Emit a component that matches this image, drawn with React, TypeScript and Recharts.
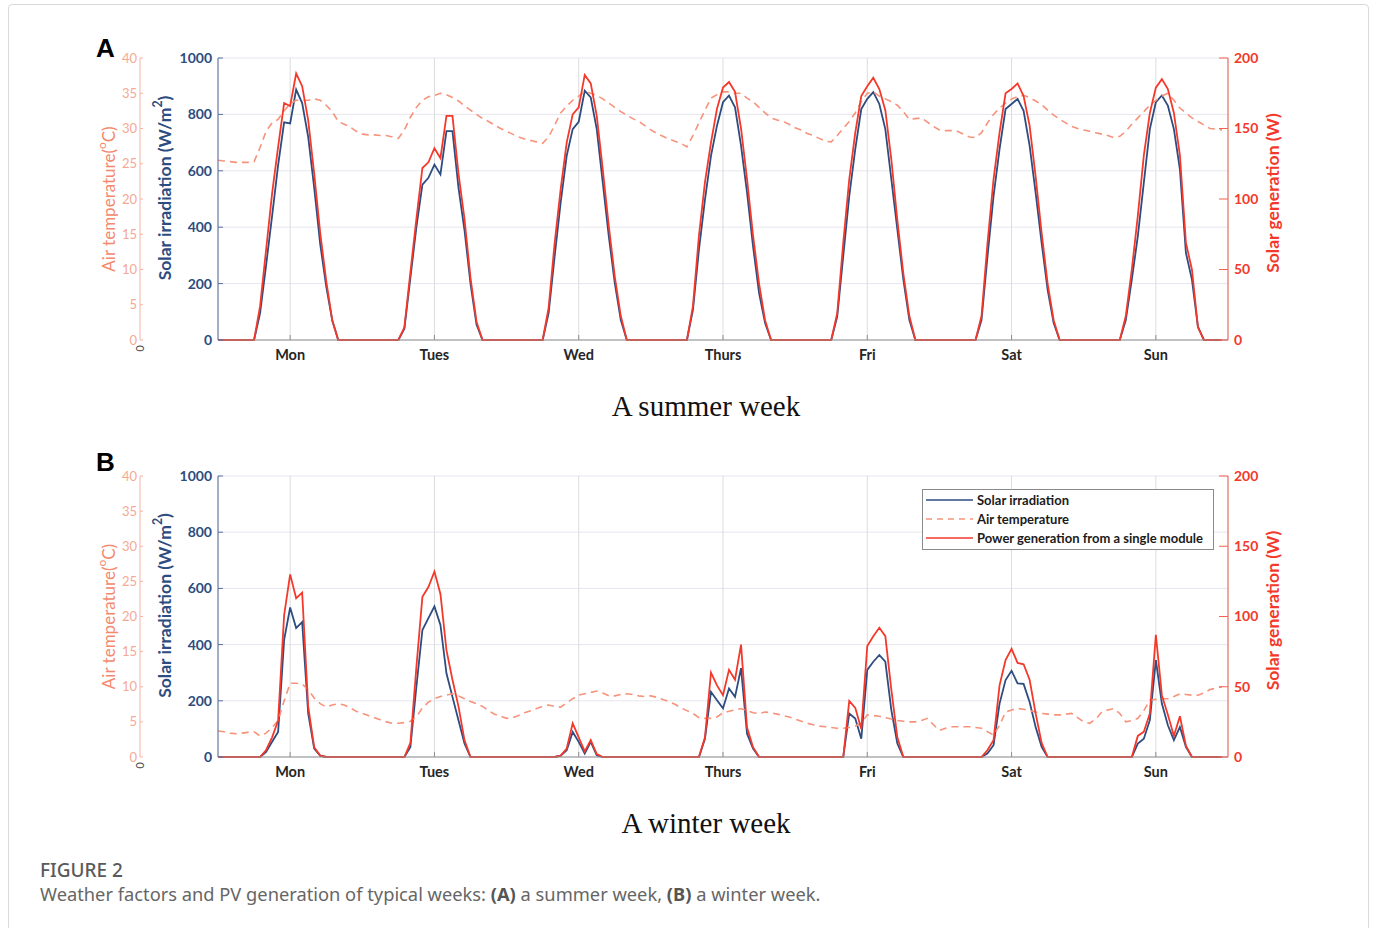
import React from 'react';
import { ComposedChart, Line, XAxis, YAxis, CartesianGrid, Legend } from 'recharts';

const days = ['Mon', 'Tues', 'Wed', 'Thurs', 'Fri', 'Sat', 'Sun'];
const dayTicks = [12, 36, 60, 84, 108, 132, 156];
const irradiationTicks = [0, 200, 400, 600, 800, 1000];
const temperatureTicks = [0, 5, 10, 15, 20, 25, 30, 35, 40];
const powerTicks = [0, 50, 100, 150, 200];
const legendOrder = ['Solar irradiation', 'Air temperature', 'Power generation from a single module'];

// hourly readings, one row of 24 values per day (Mon..Sun)
const summerIrradiation = [
  [0, 0, 0, 0, 0, 0, 0, 95, 265, 440, 620, 772, 768, 888, 840, 720, 540, 340, 190, 70, 0, 0, 0, 0],
  [0, 0, 0, 0, 0, 0, 0, 40, 220, 400, 551, 575, 622, 587, 741, 741, 540, 390, 200, 55, 0, 0, 0, 0],
  [0, 0, 0, 0, 0, 0, 0, 96, 297, 488, 653, 748, 774, 884, 860, 748, 558, 368, 202, 71, 0, 0, 0, 0],
  [0, 0, 0, 0, 0, 0, 0, 107, 320, 498, 653, 760, 843, 867, 825, 689, 523, 332, 166, 60, 0, 0, 0, 0],
  [0, 0, 0, 0, 0, 0, 0, 83, 297, 510, 677, 819, 855, 879, 837, 748, 570, 392, 214, 71, 0, 0, 0, 0],
  [0, 0, 0, 0, 0, 0, 0, 71, 297, 510, 677, 819, 837, 855, 813, 689, 523, 344, 178, 60, 0, 0, 0, 0],
  [0, 0, 0, 0, 0, 0, 0, 71, 214, 368, 558, 748, 843, 867, 831, 748, 605, 309, 214, 47, 0, 0, 0, 0],
];

const summerPower = [
  [0, 0, 0, 0, 0, 0, 0, 24, 64, 104, 137, 168, 166, 189, 180, 156, 118, 76, 42, 14, 0, 0, 0, 0],
  [0, 0, 0, 0, 0, 0, 0, 9, 48, 86, 122, 126, 136, 129, 159, 159, 118, 86, 44, 13, 0, 0, 0, 0],
  [0, 0, 0, 0, 0, 0, 0, 23, 69, 107, 140, 160, 165, 188, 182, 159, 121, 81, 45, 17, 0, 0, 0, 0],
  [0, 0, 0, 0, 0, 0, 0, 24, 74, 112, 140, 164, 179, 183, 176, 150, 114, 74, 40, 14, 0, 0, 0, 0],
  [0, 0, 0, 0, 0, 0, 0, 19, 69, 114, 147, 173, 180, 186, 178, 163, 128, 85, 47, 17, 0, 0, 0, 0],
  [0, 0, 0, 0, 0, 0, 0, 17, 69, 114, 147, 175, 178, 182, 173, 152, 116, 76, 40, 14, 0, 0, 0, 0],
  [0, 0, 0, 0, 0, 0, 0, 17, 50, 88, 131, 161, 179, 185, 178, 161, 131, 69, 50, 9, 0, 0, 0, 0],
];

const summerTemperature = [
  [25.5, 25.4, 25.3, 25.2, 25.2, 25.2, 25.3, 27.3, 29.6, 30.8, 31.3, 32.5, 33.5, 34.0, 34.0, 34.0, 34.2, 34.0, 33.3, 32.4, 31.0, 30.6, 30.2, 29.6],
  [29.2, 29.1, 29.1, 29.0, 29.0, 28.8, 28.6, 29.8, 31.6, 33.0, 34.0, 34.5, 34.7, 35.0, 34.8, 34.4, 33.9, 33.2, 32.6, 32.0, 31.4, 31.0, 30.5, 30.0],
  [29.6, 29.2, 28.8, 28.5, 28.3, 28.1, 27.9, 28.8, 30.5, 32.2, 33.2, 34.0, 34.6, 35.2, 35.0, 34.7, 34.2, 33.6, 33.0, 32.4, 31.9, 31.4, 31.0, 30.4],
  [29.8, 29.3, 28.9, 28.5, 28.2, 27.9, 27.4, 29.0, 30.8, 32.6, 34.3, 34.8, 35.2, 35.2, 35.0, 35.0, 34.3, 33.8, 33.0, 32.2, 31.5, 31.2, 31.0, 30.6],
  [30.1, 29.8, 29.3, 29.0, 28.6, 28.2, 28.1, 29.0, 30.0, 31.0, 32.2, 33.8, 35.0, 35.2, 34.6, 34.2, 33.8, 33.3, 32.4, 31.3, 31.4, 31.5, 30.9, 30.3],
  [29.8, 29.7, 29.7, 29.6, 29.2, 28.8, 28.7, 29.4, 30.8, 32.0, 32.9, 33.6, 34.2, 34.5, 34.7, 34.4, 33.9, 33.4, 32.6, 31.9, 31.3, 30.8, 30.3, 30.0],
  [29.8, 29.6, 29.4, 29.2, 29.0, 28.7, 28.9, 29.6, 30.6, 31.5, 32.4, 33.3, 34.0, 34.6, 35.0, 34.0, 32.9, 32.2, 31.5, 31.0, 30.5, 30.0, 29.9, 29.8],
];

const winterIrradiation = [
  [0, 0, 0, 0, 0, 0, 0, 0, 18, 54, 89, 417, 532, 459, 480, 155, 30, 5, 0, 0, 0, 0, 0, 0],
  [0, 0, 0, 0, 0, 0, 0, 0, 36, 250, 452, 494, 536, 470, 298, 214, 131, 48, 0, 0, 0, 0, 0, 0],
  [0, 0, 0, 0, 0, 0, 0, 0, 0, 5, 24, 89, 54, 12, 54, 6, 0, 0, 0, 0, 0, 0, 0, 0],
  [0, 0, 0, 0, 0, 0, 0, 0, 0, 65, 232, 202, 173, 244, 214, 316, 83, 30, 0, 0, 0, 0, 0, 0],
  [0, 0, 0, 0, 0, 0, 0, 0, 0, 155, 137, 65, 310, 339, 363, 339, 167, 48, 0, 0, 0, 0, 0, 0],
  [0, 0, 0, 0, 0, 0, 0, 0, 13, 42, 190, 274, 307, 262, 260, 196, 107, 36, 0, 0, 0, 0, 0, 0],
  [0, 0, 0, 0, 0, 0, 0, 0, 0, 48, 65, 131, 345, 190, 113, 60, 107, 36, 0, 0, 0, 0, 0, 0],
];

const winterPower = [
  [0, 0, 0, 0, 0, 0, 0, 0, 5, 14, 26, 101, 130, 113, 117, 36, 7, 1, 0, 0, 0, 0, 0, 0],
  [0, 0, 0, 0, 0, 0, 0, 0, 10, 64, 114, 121, 132, 116, 76, 55, 36, 12, 0, 0, 0, 0, 0, 0],
  [0, 0, 0, 0, 0, 0, 0, 0, 0, 1, 6, 24, 14, 4, 12, 2, 0, 0, 0, 0, 0, 0, 0, 0],
  [0, 0, 0, 0, 0, 0, 0, 0, 0, 14, 60, 51, 44, 62, 55, 80, 21, 7, 0, 0, 0, 0, 0, 0],
  [0, 0, 0, 0, 0, 0, 0, 0, 0, 40, 35, 20, 79, 86, 92, 86, 48, 14, 0, 0, 0, 0, 0, 0],
  [0, 0, 0, 0, 0, 0, 0, 0, 5, 12, 51, 69, 77, 67, 66, 55, 31, 10, 0, 0, 0, 0, 0, 0],
  [0, 0, 0, 0, 0, 0, 0, 0, 0, 15, 18, 31, 87, 44, 30, 15, 29, 8, 0, 0, 0, 0, 0, 0],
];

const winterTemperature = [
  [3.7, 3.6, 3.4, 3.3, 3.4, 3.5, 3.6, 3.0, 3.4, 4.2, 5.2, 8.0, 10.5, 10.5, 10.4, 9.6, 8.4, 7.6, 7.1, 7.4, 7.6, 7.4, 7.0, 6.5],
  [6.2, 5.9, 5.6, 5.3, 5.0, 4.8, 4.8, 4.9, 5.1, 5.7, 7.0, 7.8, 8.3, 8.6, 8.8, 9.0, 8.7, 8.3, 7.9, 7.6, 7.2, 6.6, 6.1, 5.8],
  [5.5, 5.6, 5.9, 6.3, 6.6, 6.9, 7.2, 7.4, 7.2, 7.1, 7.7, 8.3, 8.8, 9.0, 9.2, 9.4, 9.1, 8.7, 8.7, 8.9, 9.0, 8.9, 8.7, 8.6],
  [8.7, 8.5, 8.2, 7.9, 7.5, 7.0, 6.6, 6.2, 5.6, 5.5, 5.5, 5.7, 6.3, 6.5, 6.7, 6.9, 6.6, 6.3, 6.2, 6.4, 6.3, 6.1, 5.9, 5.7],
  [5.4, 5.1, 4.8, 4.6, 4.4, 4.3, 4.2, 4.1, 4.1, 4.2, 4.4, 4.8, 6.0, 5.9, 5.8, 5.6, 5.4, 5.2, 5.1, 5.0, 5.0, 5.2, 5.5, 4.6],
  [3.8, 4.1, 4.3, 4.3, 4.3, 4.3, 4.2, 4.1, 3.6, 3.1, 4.5, 6.4, 6.7, 6.9, 6.8, 6.6, 6.4, 6.2, 6.1, 6.0, 6.0, 6.1, 6.2, 5.6],
  [5.0, 4.8, 5.4, 6.4, 6.7, 6.9, 6.2, 5.0, 5.2, 5.5, 6.6, 8.1, 8.2, 8.3, 8.3, 8.6, 9.0, 8.9, 8.8, 8.8, 9.1, 9.6, 9.8, 10.0],
];

type HourRow = { hour: number; irradiation: number; temperature: number; power: number };

const buildRows = (irr: number[][], temp: number[][], power: number[][]): HourRow[] =>
  irr.flatMap((day, d) =>
    day.map((value, h) => ({ hour: d * 24 + h, irradiation: value, temperature: temp[d][h], power: power[d][h] }))
  );

const summerRows = buildRows(summerIrradiation, summerTemperature, summerPower);
const winterRows = buildRows(winterIrradiation, winterTemperature, winterPower);

const FONT = 'Lato, "Open Sans", sans-serif';
const BLUE = '#2d4c80';
const RED = '#f4392b';
const SALMON = '#f7937b';
const TEMP_AXIS = '#f6b3a2';

type ViewBox = { x: number; y: number; width: number; height: number };

// rotated axis title with an optional superscript part
const axisTitle = (
  offsetX: number,
  offsetY: number,
  fill: string,
  weight: number,
  size: number,
  text: string,
  sup = '',
  tail = ''
) =>
  (props: { viewBox?: ViewBox }) => {
    const vb = props.viewBox;
    if (!vb) return null;
    const cx = vb.x + offsetX;
    const cy = vb.y + vb.height / 2 + offsetY;
    return (
      <text
        x={cx}
        y={cy}
        transform={`rotate(-90 ${cx} ${cy})`}
        textAnchor="middle"
        dominantBaseline="central"
        fill={fill}
        fontSize={size}
        fontWeight={weight}
        fontFamily={FONT}
      >
        {text}
        {sup && <tspan dy={-7} fontSize={size * 0.7}>{sup}</tspan>}
        {sup && <tspan dy={7}>{tail}</tspan>}
      </text>
    );
  };

const WeekLegend = ({ payload }: { payload?: any[] }) => {
  const items = [...(payload ?? [])].sort(
    (a, b) => legendOrder.indexOf(a.value) - legendOrder.indexOf(b.value)
  );
  return (
    <div style={{ border: '1px solid #8a8a8a', background: '#fff', padding: '0 0 1px', width: 290 }}>
      {items.map((item) => (
        <div key={item.value} style={{ display: 'flex', alignItems: 'center', height: 19.3 }}>
          <svg width={54} height={10} style={{ flex: 'none' }}>
            <line
              x1={3}
              x2={50}
              y1={5}
              y2={5}
              stroke={item.color}
              strokeWidth={1.6}
              strokeDasharray={item.dataKey === 'temperature' ? '6 5' : undefined}
            />
          </svg>
          <span style={{ fontFamily: FONT, fontSize: 13, fontWeight: 700, color: '#1b1b1b', whiteSpace: 'nowrap' }}>
            {item.value}
          </span>
        </div>
      ))}
    </div>
  );
};

const WeekChart = ({ data, height, showLegend }: { data: HourRow[]; height: number; showLegend?: boolean }) => (
  <ComposedChart width={1375} height={height} data={data} margin={{ top: 58, right: 87, bottom: 0, left: 90 }}>
    <CartesianGrid xAxisId="bottom" yAxisId="irr" vertical={false} stroke="#e6e6ef" />
    <CartesianGrid xAxisId="bottom" yAxisId="irr" horizontal={false} stroke="#dcdcdc" />
    <XAxis
      xAxisId="bottom"
      dataKey="hour"
      type="number"
      domain={[0, 168]}
      ticks={dayTicks}
      interval={0}
      tickFormatter={(v: number) => days[Math.round((v - 12) / 24)]}
      tickSize={-5}
      tickMargin={15}
      height={40}
      stroke="#8f8f8f"
      tick={{ fill: '#262626', fontSize: 14.5, fontWeight: 700, fontFamily: FONT }}
    />
    <XAxis
      xAxisId="top"
      orientation="top"
      dataKey="hour"
      type="number"
      domain={[0, 168]}
      ticks={dayTicks}
      interval={0}
      tick={false}
      tickSize={-5}
      height={0}
      stroke="#5e5e5e"
    />
    <YAxis
      yAxisId="irr"
      domain={[0, 1000]}
      ticks={irradiationTicks}
      interval={0}
      width={78}
      tickSize={-5}
      tickMargin={11}
      stroke="#5b6f9f"
      tick={{ fill: BLUE, fontSize: 14, fontWeight: 700, fontFamily: FONT }}
      label={axisTitle(24, -11, BLUE, 700, 17.5, 'Solar irradiation (W/m', '2', ')')}
    />
    <YAxis
      yAxisId="temp"
      domain={[0, 40]}
      ticks={temperatureTicks}
      interval={0}
      width={50}
      tickSize={-3}
      tickMargin={6}
      stroke={TEMP_AXIS}
      tick={{ fill: '#f5a995', fontSize: 13, fontFamily: FONT }}
      label={axisTitle(18, 0, '#f3896d', 400, 17, 'Air temperature(', 'o', 'C)')}
    />
    <YAxis
      yAxisId="pow"
      orientation="right"
      domain={[0, 200]}
      ticks={powerTicks}
      interval={0}
      width={60}
      tickSize={-9}
      tickMargin={15}
      stroke="#f4604f"
      tick={{ fill: RED, fontSize: 14, fontWeight: 700, fontFamily: FONT }}
      label={axisTitle(44, -6, RED, 700, 17.5, 'Solar generation (W)')}
    />
    <Line
      xAxisId="bottom"
      yAxisId="irr"
      type="linear"
      dataKey="irradiation"
      name="Solar irradiation"
      stroke={BLUE}
      strokeWidth={1.8}
      dot={false}
      isAnimationActive={false}
    />
    <Line
      xAxisId="bottom"
      yAxisId="temp"
      type="linear"
      dataKey="temperature"
      name="Air temperature"
      stroke={SALMON}
      strokeWidth={1.6}
      strokeDasharray="7 5"
      dot={false}
      isAnimationActive={false}
    />
    <Line
      xAxisId="bottom"
      yAxisId="pow"
      type="linear"
      dataKey="power"
      name="Power generation from a single module"
      stroke={RED}
      strokeWidth={1.8}
      dot={false}
      isAnimationActive={false}
    />
    {showLegend && (
      <Legend
        layout="vertical"
        align="center"
        verticalAlign="middle"
        wrapperStyle={{ left: 922, top: 71, width: 292, height: 'auto' }}
        content={(props: any) => <WeekLegend payload={props.payload} />}
      />
    )}
  </ComposedChart>
);

const panelLetter: React.CSSProperties = {
  position: 'absolute',
  left: 96,
  fontFamily: '"Liberation Sans", Arial, sans-serif',
  fontWeight: 700,
  fontSize: 26,
  lineHeight: '26px',
  color: '#000',
};

const weekTitle: React.CSSProperties = {
  position: 'absolute',
  left: 706,
  transform: 'translateX(-50%)',
  fontFamily: '"Liberation Serif", "Times New Roman", serif',
  fontSize: 29,
  lineHeight: '29px',
  color: '#111',
  whiteSpace: 'nowrap',
};

export default function App() {
  return (
    <div style={{ position: 'absolute', left: 0, top: 0, width: 1375, height: 928, overflow: 'hidden', background: '#fff' }}>
      <div
        style={{
          position: 'absolute',
          left: 8,
          top: 4,
          width: 1359,
          height: 940,
          border: '1px solid #d9d9d9',
          borderRadius: 4,
        }}
      />
      <div style={{ position: 'absolute', left: 0, top: 0 }}>
        <WeekChart data={summerRows} height={380} />
      </div>
      <div style={{ position: 'absolute', left: 0, top: 418 }}>
        <WeekChart data={winterRows} height={379} showLegend />
      </div>
      <div style={{ ...panelLetter, top: 35 }}>A</div>
      <div style={{ ...panelLetter, top: 449 }}>B</div>
      <div style={{ ...weekTitle, top: 392 }}>A summer week</div>
      <div style={{ ...weekTitle, top: 809 }}>A winter week</div>
      {[343, 760].map((top) => (
        <div
          key={top}
          style={{
            position: 'absolute',
            left: 137,
            top,
            fontFamily: FONT,
            fontSize: 11,
            lineHeight: '11px',
            color: '#444',
            transform: 'rotate(90deg)',
          }}
        >
          0
        </div>
      ))}
      <div
        style={{
          position: 'absolute',
          left: 40,
          top: 859,
          fontFamily: '"Noto Sans", sans-serif',
          fontSize: 19,
          lineHeight: '22px',
          fontWeight: 500,
          color: '#5a5a5a',
        }}
      >
        FIGURE 2
      </div>
      <div
        style={{
          position: 'absolute',
          left: 40,
          top: 883,
          fontFamily: '"Noto Sans", sans-serif',
          fontSize: 18.3,
          lineHeight: '22px',
          color: '#666',
          whiteSpace: 'nowrap',
        }}
      >
        Weather factors and PV generation of typical weeks: <b style={{ color: '#555' }}>(A)</b> a summer week,{' '}
        <b style={{ color: '#555' }}>(B)</b> a winter week.
      </div>
    </div>
  );
}
